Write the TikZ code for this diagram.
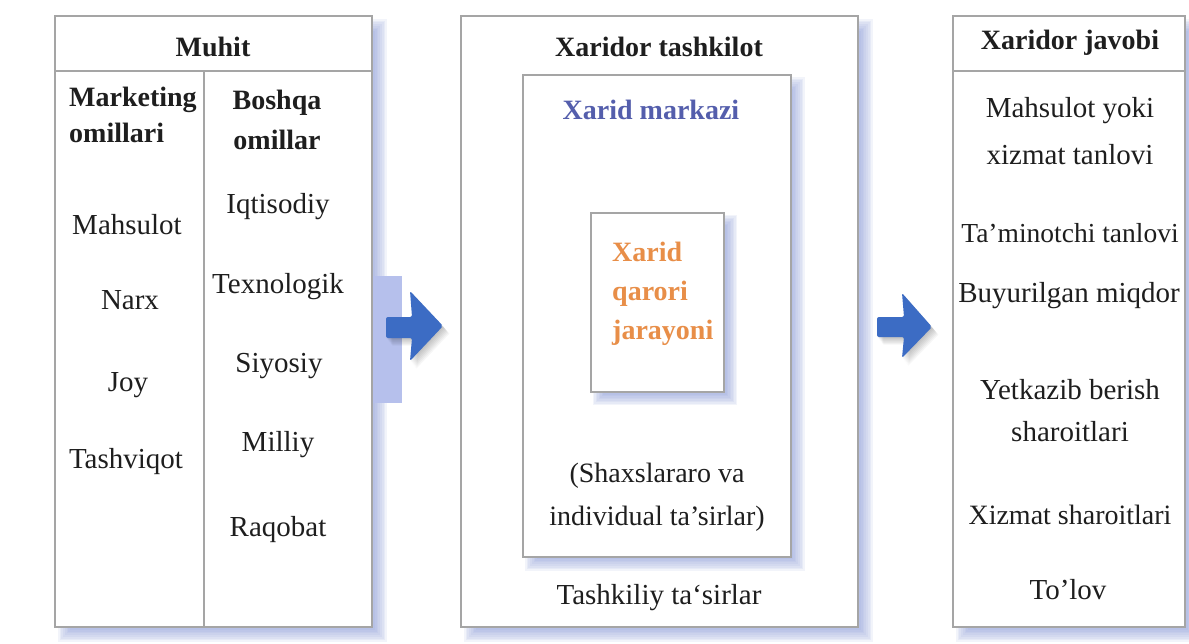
\documentclass[tikz,border=0pt]{standalone}
\usepackage{fontspec}
\setmainfont{Liberation Serif}
\begin{document}
\begin{tikzpicture}[x=1pt,y=-1pt]
\definecolor{framegray}{RGB}{165,165,165}
\definecolor{shadelav}{RGB}{140,158,218}
\definecolor{bandlav}{RGB}{182,192,236}
\definecolor{arrowblue}{RGB}{60,108,196}
\definecolor{headblue}{RGB}{84,94,172}
\definecolor{procorange}{RGB}{232,142,72}
\definecolor{inkgray}{RGB}{30,30,30}
\tikzset{
  panel/.style={draw=framegray, line width=1.1pt, fill=white, inner sep=0pt},
  txt/.style={font=\fontsize{29}{40}\selectfont, text=inkgray, align=center, inner sep=0pt},
  headtxt/.style={font=\fontsize{28}{38}\selectfont\bfseries, text=inkgray, align=center, inner sep=0pt},
  sepline/.style={draw=framegray, line width=1.1pt},
  blockarrow/.style={fill=arrowblue, rounded corners=2pt}
}
% soft drop shadow: corners, colour, blur radius, layer opacity
\newcommand{\softshade}[7]{%
  \foreach \k in {0,...,7}{%
    \pgfmathsetmacro\ee{#6*(1-\k/3.5)}%
    \fill[#5, opacity=#7] (#1-\ee,#2-\ee) rectangle (#3+\ee,#4+\ee);
  }}
% blurred grey shadow under a block arrow given as a path
\newcommand{\arrowshade}[1]{%
  \foreach \k in {1,...,7}{%
    \fill[black, opacity=0.035, shift={(\k*0.9,\k*1.1)}] #1;
  }}

\useasboundingbox[fill=white] (0,0) rectangle (1189,643);

% shadows of the three panels
\softshade{64}{25}{381}{636}{shadelav}{6}{0.11}
\softshade{470}{25}{867}{636}{shadelav}{6}{0.11}
\softshade{962}{25}{1194}{636}{shadelav}{6}{0.11}

% panels
\node[panel, minimum width=317, minimum height=611] (muhit) at (213.5,321.5) {};
\node[panel, minimum width=397, minimum height=611] (tashkilot) at (659.5,321.5) {};
\node[panel, minimum width=232, minimum height=611] (javob) at (1069,321.5) {};

% inner boxes of the middle panel
\softshade{531}{83}{799}{565}{shadelav}{6}{0.11}
\node[panel, minimum width=268, minimum height=482] (markaz) at (657,316) {};
\softshade{598}{220}{732}{400}{shadelav}{5}{0.11}
\node[panel, minimum width=133, minimum height=179] (qaror) at (657.5,302.5) {};

% header rules and column divider
\draw[sepline] (muhit.west |- 0,71) -- (muhit.east |- 0,71);
\draw[sepline] (javob.west |- 0,71) -- (javob.east |- 0,71);
\draw[sepline, line width=1.4pt] (204,71) -- (204,627);

% band behind the first arrow
\fill[bandlav] (373,276) rectangle (402,403);

% block arrows with their soft shadows
\arrowshade{(386,317) -- (412,317) -- (410,291) -- (443,326) -- (410,361) -- (412,338) -- (386,338) -- cycle}
\fill[blockarrow] (386,317) -- (412,317) -- (410,291) -- (443,326) -- (410,361) -- (412,338) -- (386,338) -- cycle;
\arrowshade{(877,317) -- (904,317) -- (902,293) -- (932,327) -- (902,358) -- (904,337) -- (877,337) -- cycle}
\fill[blockarrow] (877,317) -- (904,317) -- (902,293) -- (932,327) -- (902,358) -- (904,337) -- (877,337) -- cycle;

% left panel texts
\node[headtxt] (muhitT) at (213,47) {Muhit};
\node[headtxt, align=left, anchor=west, font=\fontsize{28}{36}\selectfont\bfseries] (mark) at (69,115) {Marketing\\omillari};
\node[headtxt, font=\fontsize{28}{40}\selectfont\bfseries] (bosh) at (277,120) {Boshqa\\omillar};
\node[txt] (m1) at (127,225) {Mahsulot};
\node[txt] (m2) at (130,300) {Narx};
\node[txt] (m3) at (128,385) {Joy};
\node[txt] (m4) at (126,462) {Tashviqot};
\node[txt] (b1) at (278,207) {Iqtisodiy};
\node[txt] (b2) at (278,287) {Texnologik};
\node[txt] (b3) at (279,366) {Siyosiy};
\node[txt] (b4) at (278,445) {Milliy};
\node[txt] (b5) at (278,530) {Raqobat};

% middle panel texts
\node[headtxt] (tashT) at (659,47) {Xaridor tashkilot};
\node[headtxt, text=headblue] (markT) at (651,110) {Xarid markazi};
\node[headtxt, text=procorange, align=left, anchor=west, font=\fontsize{28}{39}\selectfont\bfseries] (qarorT) at (612,294) {Xarid\\qarori\\jarayoni};
\node[txt, font=\fontsize{28}{43}\selectfont] (shax) at (657,497) {(Shaxslararo va\\individual ta’sirlar)};
\node[txt] (tashk) at (659,598) {Tashkiliy ta‘sirlar};

% right panel texts
\node[headtxt] (javT) at (1070,43) {Xaridor javobi};
\node[txt, font=\fontsize{29}{47}\selectfont] (r1) at (1070,131) {Mahsulot yoki\\xizmat tanlovi};
\node[txt, font=\fontsize{27.5}{40}\selectfont] (r2) at (1070,233) {Ta’minotchi tanlovi};
\node[txt] (r3) at (1069,296) {Buyurilgan miqdor};
\node[txt, font=\fontsize{29}{42}\selectfont] (r4) at (1070,411) {Yetkazib berish\\sharoitlari};
\node[txt, font=\fontsize{28}{40}\selectfont] (r5) at (1070,515) {Xizmat sharoitlari};
\node[txt] (r6) at (1068,590) {To’lov};
\end{tikzpicture}
\end{document}
